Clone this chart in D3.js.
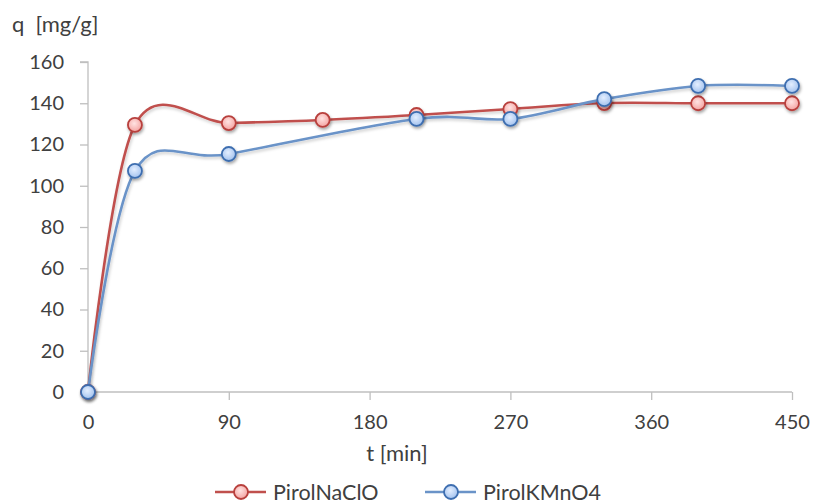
<!DOCTYPE html>
<html>
<head>
<meta charset="utf-8">
<script src="https://cdn.jsdelivr.net/npm/d3@7"></script>
<style>
  html, body { margin: 0; padding: 0; background: #fff; }
  svg { display: block; font-family: Lato, "Open Sans", sans-serif; }
</style>
</head>
<body>
<svg id="chart" width="814" height="504"></svg>
<script>
// Adsorption kinetics: q [mg/g] vs t [min]
const naclTime = [0, 30, 90, 150, 210, 270, 330, 390, 450];
const naclQ    = [0, 129.5, 130.4, 131.9, 134.3, 137.2, 140.1, 140.0, 140.0];
const kmnTime  = [0, 30, 90, 210, 270, 330, 390, 450];
const kmnQ     = [0, 107.2, 115.4, 132.4, 132.4, 142.0, 148.4, 148.4];
const seriesNames = ["PirolNaClO", "PirolKMnO4"];
const xTicks = [0, 90, 180, 270, 360, 450];
const yTicks = [0, 20, 40, 60, 80, 100, 120, 140, 160];

const svg = d3.select("#chart");
const plotL = 88, plotR = 792, plotT = 62, plotB = 392;
const textColor = "#404040";

const x = d3.scaleLinear().domain([0, 450]).range([plotL, plotR]);
const y = d3.scaleLinear().domain([0, 160]).range([plotB, plotT]);

const styles = [
  { line: "#C0504D", stroke: "#B8403D", inner: "#FFE3E2", outer: "#F4A3A1" },
  { line: "#6A93C8", stroke: "#3E6EB0", inner: "#E3EEFF", outer: "#A3C2EE" }
];

const defs = svg.append("defs");
styles.forEach((s, i) => {
  const g = defs.append("radialGradient").attr("id", "mk" + i)
    .attr("cx", "45%").attr("cy", "40%").attr("r", "60%");
  g.append("stop").attr("offset", "0%").attr("stop-color", s.inner);
  g.append("stop").attr("offset", "100%").attr("stop-color", s.outer);
});
const sh = defs.append("filter").attr("id", "shadow")
  .attr("x", "-50%").attr("y", "-50%").attr("width", "200%").attr("height", "200%");
sh.append("feDropShadow").attr("dx", 1).attr("dy", 2).attr("stdDeviation", 1.5)
  .attr("flood-color", "#000").attr("flood-opacity", 0.35);
const lsh = defs.append("filter").attr("id", "lshadow")
  .attr("x", "-10%").attr("y", "-10%").attr("width", "120%").attr("height", "120%");
lsh.append("feDropShadow").attr("dx", 1).attr("dy", 2).attr("stdDeviation", 1.5)
  .attr("flood-color", "#000").attr("flood-opacity", 0.2);

// Axes
const yAxis = d3.axisLeft(y).tickValues(yTicks).tickSize(8).tickPadding(16);
const gy = svg.append("g").attr("transform", `translate(${plotL},0)`).call(yAxis);
const xAxis = d3.axisBottom(x).tickValues(xTicks).tickSize(8).tickPadding(15);
const gx = svg.append("g").attr("transform", `translate(0,${plotB})`).call(xAxis);
[gy, gx].forEach(g => {
  g.selectAll("path, line").attr("stroke", "#BFBFBF").attr("stroke-width", 1.3);
  g.selectAll("text").attr("fill", textColor).style("font-size", "20px")
    .style("font-family", "Lato, 'Open Sans', sans-serif");
});
gy.select(".domain").attr("d", `M${-8},${plotT}H0V${plotB}`);
gx.select(".domain").attr("d", `M${plotL},0H${plotR}`);

// Axis titles
svg.append("text").attr("x", 12).attr("y", 32).attr("fill", textColor)
  .style("font-size", "22px").attr("xml:space", "preserve").text("q  [mg/g]");
svg.append("text").attr("x", 397).attr("y", 461)
  .attr("text-anchor", "middle").attr("fill", textColor)
  .style("font-size", "22px").text("t [min]");

// Series
const data = [
  naclTime.map((t, i) => [t, naclQ[i]]),
  kmnTime.map((t, i) => [t, kmnQ[i]])
];
const line = d3.line().x(d => x(d[0])).y(d => y(d[1])).curve(d3.curveCardinal.tension(0));

data.forEach((pts, i) => {
  svg.append("path").datum(pts).attr("d", line)
    .attr("fill", "none").attr("stroke", styles[i].line).attr("stroke-width", 2.6)
    .attr("filter", "url(#lshadow)");
});
data.forEach((pts, i) => {
  svg.append("g").selectAll("circle").data(pts).join("circle")
    .attr("cx", d => x(d[0])).attr("cy", d => y(d[1])).attr("r", 7)
    .attr("fill", `url(#mk${i})`).attr("stroke", styles[i].stroke).attr("stroke-width", 1.8)
    .attr("filter", "url(#shadow)");
});

// Legend
const legendItems = [
  { x0: 215, name: seriesNames[0], s: styles[0] },
  { x0: 425, name: seriesNames[1], s: styles[1] }
];
legendItems.forEach((it, i) => {
  const g = svg.append("g").attr("transform", `translate(${it.x0},492)`);
  g.append("line").attr("x1", 0).attr("x2", 51).attr("y1", 0).attr("y2", 0)
    .attr("stroke", it.s.line).attr("stroke-width", 2.6);
  g.append("circle").attr("cx", 26).attr("cy", 0).attr("r", 7)
    .attr("fill", `url(#mk${i})`).attr("stroke", it.s.stroke).attr("stroke-width", 1.8);
  g.append("text").attr("x", 58).attr("y", 8).attr("fill", textColor)
    .style("font-size", "21.5px").text(it.name);
});
</script>
</body>
</html>
